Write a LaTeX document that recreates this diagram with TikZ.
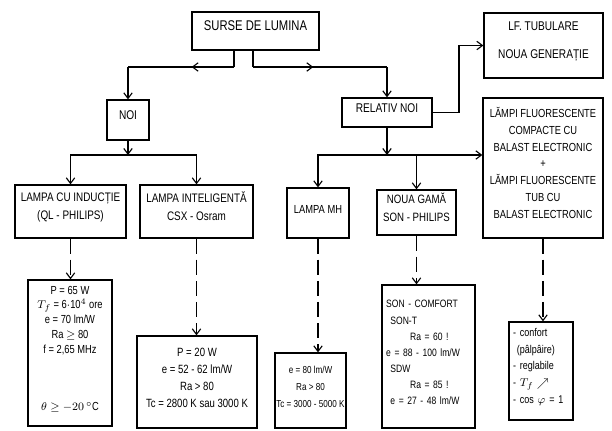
\documentclass[tikz,border=0pt]{standalone}
\usepackage{amsmath}
\usepackage{fontspec}
\setmainfont{Liberation Sans}[FakeStretch=0.8]
\usetikzlibrary{arrows.meta,fit,decorations.markings}

\tikzset{
  box/.style={draw, line width=0.9pt, inner sep=0pt, align=center},
  conn/.style={line width=0.8pt, -{Straight Barb[length=4pt,width=6pt]}},
  plainconn/.style={line width=0.8pt},
  dconn/.style={line width=0.8pt, dash pattern=on 11pt off 4pt, -{Straight Barb[length=4pt,width=6pt]}},
  midarr/.style={postaction={decorate}, decoration={markings,
    mark=at position #1 with {\arrow{Straight Barb[length=4pt,width=6pt]}}}},
}

\begin{document}
\begin{tikzpicture}[x=0.025cm, y=-0.025cm]
  \useasboundingbox (0,0) rectangle (612,430);
  % upper level
  \node[box, fit={(192,12) (319,50)}, font=\fontsize{10}{11}\selectfont] (surse) {SURSE DE LUMINA};
  \node[box, fit={(107,100) (149,140)}, font=\fontsize{9}{11}\selectfont] (noi) {NOI};
  \node[box, fit={(342,98) (432,127)}, font=\fontsize{9}{11}\selectfont] (relativ) {RELATIV NOI};
  \node[box, fit={(484,13) (603,78)}, font=\fontsize{9}{20}\selectfont] (letub) {LF. TUBULARE\\NOUA GENERAȚIE};
  \node[box, fit={(483,98) (603,238)}, font=\fontsize{8.3}{12}\selectfont] (lfc)
    {LĂMPI FLUORESCENTE\\COMPACTE CU\\BALAST ELECTRONIC\\+\\LĂMPI FLUORESCENTE\\TUB CU\\BALAST ELECTRONIC};
  % lamp types
  \node[box, fit={(15,185) (126,238)}, font=\fontsize{8.8}{12.5}\selectfont] (induc) {LAMPA CU INDUCȚIE\\(QL - PHILIPS)};
  \node[box, fit={(140,185) (253,238)}, font=\fontsize{8.8}{12.5}\selectfont] (intel) {LAMPA INTELIGENTĂ\\CSX - Osram};
  \node[box, fit={(287,188) (349,238)}, font=\fontsize{8.3}{12}\selectfont] (mh) {LAMPA MH};
  \node[box, fit={(377,190) (456,235)}, font=\fontsize{8.6}{12.5}\selectfont] (gama) {NOUA GAMĂ\\SON - PHILIPS};
  % characteristics
  \node[box, fit={(28,280) (112,426)}, font=\fontsize{8.3}{10.5}\selectfont] (car1)
    {P = 65 W\\$T_f$ = 6$\cdot$10$^4$ ore\\e = 70 lm/W\\Ra $\geq$ 80\\f = 2,65 MHz\\[30pt]$\theta \geq -20\,^\circ$C};
  \node[box, fit={(137,336) (257,428)}, font=\fontsize{8.5}{12}\selectfont] (car2)
    {P = 20 W\\e = 52 - 62 lm/W\\Ra > 80\\Tc = 2800 K sau 3000 K};
  \node[box, fit={(275,353) (346,428)}, font=\fontsize{7.2}{12}\selectfont] (car3)
    {e = 80 lm/W\\Ra > 80\\Tc = 3000 - 5000 K};
  \node[box, fit={(382,285) (475,428)}, align=left, font=\fontsize{7.6}{11.5}\selectfont] (car4)
    {\hspace{3pt}SON - COMFORT\\\hspace{6pt}SON-T\\\hspace{20pt}Ra = 60 !\\\hspace{3pt}e = 88 - 100 lm/W\\\hspace{6pt}SDW\\\hspace{20pt}Ra = 85 !\\\hspace{6pt}e = 27 - 48 lm/W};
  \node[box, fit={(509,322) (573,420)}, align=left, font=\fontsize{8}{12}\selectfont] (car5)
    {\hspace{3pt}- confort\\\hspace{3pt}\ (pâlpâire)\\\hspace{3pt}- reglabile\\\hspace{3pt}- $T_f \nearrow$\\\hspace{3pt}- cos $\varphi$ = 1};

  \coordinate (jl) at (234,67);
  \coordinate (jr) at (253,67);
  \coordinate (sn) at (128,155);
  \coordinate (sr) at (387,155);
  \coordinate (kr) at (459,78);

  \draw[plainconn] (surse.south -| jl) -- (jl);
  \draw[plainconn, midarr=0.4] (jl) -- (noi.north |- jl);
  \draw[conn] (noi.north |- jl) -- (noi.north);
  \draw[plainconn] (surse.south -| jr) -- (jr);
  \draw[plainconn, midarr=0.45] (jr) -- (relativ.north |- jr);
  \draw[conn] (relativ.north |- jr) -- (relativ.north);

  \draw[conn] (noi.south) -- (sn);
  \draw[conn] (sn) -| (induc.north);
  \draw[conn] (sn) -| (intel.north);

  \draw[conn] (relativ.east) -| (kr) |- (letub.west);
  \draw[conn] (relativ.south) -- (sr);
  \draw[conn] (sr) -| (mh.north);
  \draw[conn] (sr) -| (gama.north);
  \draw[conn] (sr) -- (sr -| lfc.west);

  \draw[dconn] (induc.south) -- (induc.south |- car1.north);
  \draw[dconn] (intel.south) -- (intel.south |- car2.north);
  \draw[dconn] (mh.south) -- (mh.south |- car3.north);
  \draw[dconn] (gama.south) -- (gama.south |- car4.north);
  \draw[dconn] (lfc.south) -- (lfc.south |- car5.north);
\end{tikzpicture}
\end{document}
